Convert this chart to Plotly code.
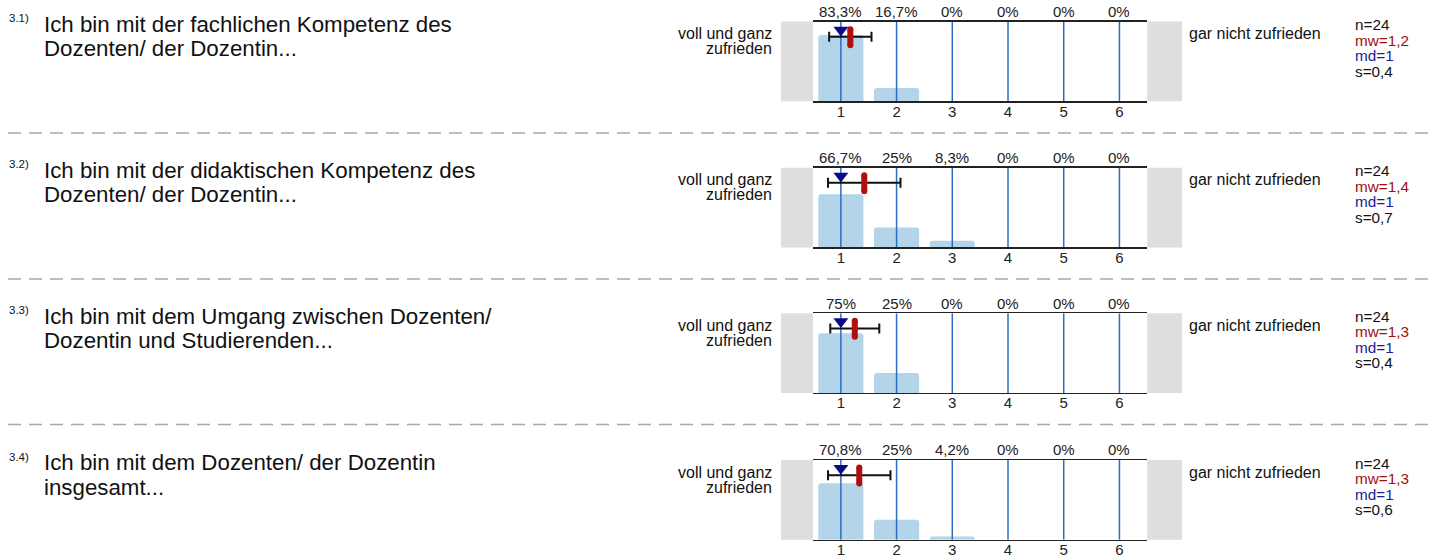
import plotly.graph_objects as go

# ---------------- data ----------------
categories = [1, 2, 3, 4, 5, 6]
item_numbers = ["3.1)", "3.2)", "3.3)", "3.4)"]
question_line1 = [
    "Ich bin mit der fachlichen Kompetenz des",
    "Ich bin mit der didaktischen Kompetenz des",
    "Ich bin mit dem Umgang zwischen Dozenten/",
    "Ich bin mit dem Dozenten/ der Dozentin",
]
question_line2 = [
    "Dozenten/ der Dozentin...",
    "Dozenten/ der Dozentin...",
    "Dozentin und Studierenden...",
    "insgesamt...",
]
pct_q1 = [83.3, 16.7, 0, 0, 0, 0]
pct_q2 = [66.7, 25, 8.3, 0, 0, 0]
pct_q3 = [75, 25, 0, 0, 0, 0]
pct_q4 = [70.8, 25, 4.2, 0, 0, 0]
percentages = [pct_q1, pct_q2, pct_q3, pct_q4]
n_values = [24, 24, 24, 24]
mean_values = [1.17, 1.42, 1.25, 1.33]
mean_labels = ["1,2", "1,4", "1,3", "1,3"]
median_values = [1, 1, 1, 1]
sd_values = [0.38, 0.65, 0.44, 0.56]
sd_labels = ["0,4", "0,7", "0,4", "0,6"]
left_label = ["voll und ganz", "zufrieden"]
right_label = "gar nicht zufrieden"

# ---------------- layout constants ----------------
W, H = 1431, 558
FONT = "Liberation Sans, Arial, sans-serif"
panel_tops = [21.7, 168.3, 314.4, 461.7]
panel_h = 80
x_left, x_right = 813, 1147.3
BAR_COLOR = "#b4d4ea"
LINE_BLUE = "#2c6fbf"
MEAN_RED = "#b00f0f"
MEDIAN_BLUE = "#0b0b86"
GRAY = "#dedede"


def px_x(x):
    return x / W


def px_y(y):
    return 1 - y / H


def fmt_pct(v):
    return f"{v:g}".replace(".", ",") + "%"


fig = go.Figure()
annotations = []
shapes = []

for k in range(4):
    top = panel_tops[k]
    xa = "x" if k == 0 else f"x{k+1}"
    ya = "y" if k == 0 else f"y{k+1}"
    pct = percentages[k]

    # bars
    fig.add_trace(go.Bar(x=categories, y=pct, width=0.81, marker=dict(color=BAR_COLOR, line=dict(width=0)),
                         xaxis=xa, yaxis=ya, hoverinfo="skip", showlegend=False))
    # vertical category lines
    vx, vy = [], []
    for c in categories:
        vx += [c, c, None]
        vy += [0, 100, None]
    fig.add_trace(go.Scatter(x=vx, y=vy, mode="lines", line=dict(color=LINE_BLUE, width=1.5),
                             xaxis=xa, yaxis=ya, hoverinfo="skip", showlegend=False))
    # mean +- sd error bar
    fig.add_trace(go.Scatter(x=[mean_values[k]], y=[81], mode="markers",
                             marker=dict(size=1, color="rgba(0,0,0,0)"),
                             error_x=dict(type="data", array=[sd_values[k]], symmetric=True,
                                          color="#111111", thickness=2, width=5),
                             xaxis=xa, yaxis=ya, hoverinfo="skip", showlegend=False))
    # mean marker (red rounded bar)
    fig.add_trace(go.Scatter(x=[mean_values[k], mean_values[k]], y=[70.5, 90.5], mode="lines+markers",
                             line=dict(color=MEAN_RED, width=6),
                             marker=dict(size=6, color=MEAN_RED, line=dict(width=0)),
                             xaxis=xa, yaxis=ya, hoverinfo="skip", showlegend=False))
    # median marker
    fig.add_trace(go.Scatter(x=[median_values[k]], y=[89.6], mode="markers",
                             marker=dict(symbol="triangle-down", size=13, color=MEDIAN_BLUE, line=dict(width=0)),
                             xaxis=xa, yaxis=ya, hoverinfo="skip", showlegend=False))

    axis_x = dict(domain=[px_x(x_left), px_x(x_right)], anchor=ya, range=[0.5, 6.5],
                  tickvals=categories, ticktext=[str(c) for c in categories],
                  showline=True, mirror=True, linecolor="#222222", linewidth=1.5,
                  showgrid=False, zeroline=False, ticks="", ticklabelstandoff=-4,
                  tickfont=dict(family=FONT, size=15, color="#222222"), fixedrange=True)
    axis_y = dict(domain=[px_y(top + panel_h), px_y(top)], anchor=xa, range=[0, 100],
                  visible=False, fixedrange=True)
    key = "" if k == 0 else str(k + 1)
    fig.layout["xaxis" + key] = axis_x
    fig.layout["yaxis" + key] = axis_y

    # gray side boxes
    shapes.append(dict(type="rect", xref="paper", yref="paper", x0=px_x(781), x1=px_x(x_left),
                       y0=px_y(top + panel_h), y1=px_y(top), fillcolor=GRAY, line=dict(width=0), layer="below"))
    shapes.append(dict(type="rect", xref="paper", yref="paper", x0=px_x(x_right), x1=px_x(1182),
                       y0=px_y(top + panel_h), y1=px_y(top), fillcolor=GRAY, line=dict(width=0), layer="below"))

    # percentage labels above
    for c, v in zip(categories, pct):
        annotations.append(dict(x=c, y=px_y(top - 10.2), xref=xa, yref="paper", text=fmt_pct(v),
                                showarrow=False, xanchor="center", yanchor="middle", borderpad=0,
                                font=dict(family=FONT, size=15, color="#222222")))

    # question text
    annotations.append(dict(x=px_x(43), y=px_y(top + 2.9), xref="paper", yref="paper",
                            text=question_line1[k], showarrow=False, xanchor="left", yanchor="middle",
                            borderpad=0, font=dict(family=FONT, size=22.3, color="#111111")))
    annotations.append(dict(x=px_x(43), y=px_y(top + 27.3), xref="paper", yref="paper",
                            text=question_line2[k], showarrow=False, xanchor="left", yanchor="middle",
                            borderpad=0, font=dict(family=FONT, size=22.3, color="#111111")))
    annotations.append(dict(x=px_x(8), y=px_y(top - 3.4), xref="paper", yref="paper",
                            text=item_numbers[k], showarrow=False, xanchor="left", yanchor="middle",
                            borderpad=0, font=dict(family=FONT, size=11.5, color="#111111")))
    # scale end labels
    annotations.append(dict(x=px_x(773), y=px_y(top + 12), xref="paper", yref="paper",
                            text=left_label[0], showarrow=False, xanchor="right", yanchor="middle",
                            borderpad=0, font=dict(family=FONT, size=16, color="#111111")))
    annotations.append(dict(x=px_x(773), y=px_y(top + 27.3), xref="paper", yref="paper",
                            text=left_label[1], showarrow=False, xanchor="right", yanchor="middle",
                            borderpad=0, font=dict(family=FONT, size=16, color="#111111")))
    annotations.append(dict(x=px_x(1188), y=px_y(top + 12), xref="paper", yref="paper",
                            text=right_label, showarrow=False, xanchor="left", yanchor="middle",
                            borderpad=0, font=dict(family=FONT, size=16, color="#111111")))
    # statistics
    stats = [(f"n={n_values[k]}", "#111111"), (f"mw={mean_labels[k]}", "#a01010"),
             (f"md={median_values[k]}", "#1a1a9a"), (f"s={sd_labels[k]}", "#111111")]
    for i, (txt, col) in enumerate(stats):
        annotations.append(dict(x=px_x(1354), y=px_y(top + 3 + 15.6 * i), xref="paper", yref="paper",
                                text=txt, showarrow=False, xanchor="left", yanchor="middle",
                                borderpad=0, font=dict(family=FONT, size=15.3, color=col)))

    # dashed separator
    if k < 3:
        yy = px_y(top + 111.7)
        shapes.append(dict(type="line", xref="paper", yref="paper", x0=px_x(8), x1=1, y0=yy, y1=yy,
                           line=dict(color="#a8a8a8", width=1.5, dash="13px,8px")))

fig.update_layout(width=W, height=H, margin=dict(l=0, r=0, t=0, b=0), autosize=False,
                  paper_bgcolor="white", plot_bgcolor="white", barcornerradius=3,
                  annotations=annotations, shapes=shapes, showlegend=False,
                  font=dict(family=FONT))

# remove the browser's default page margin so the figure sits at the window's top-left corner
fig.write_html("out.html", config={"displayModeBar": False, "staticPlot": True},
               post_script="document.body.style.margin='0';document.body.style.overflow='hidden';")
